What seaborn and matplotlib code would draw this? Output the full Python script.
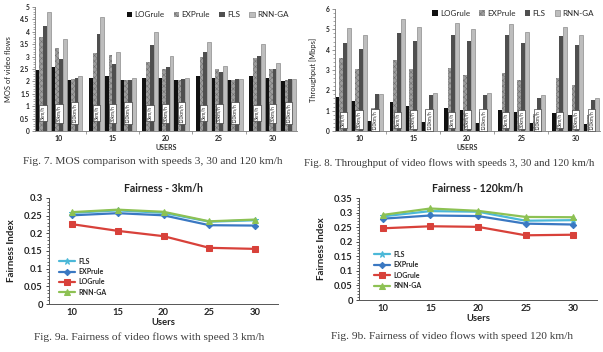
import numpy as np
import pandas as pd
import matplotlib
matplotlib.use("Agg")
import matplotlib.pyplot as plt
import seaborn as sns
from matplotlib.ticker import MultipleLocator, FuncFormatter

# ---------------- data ----------------
users = [10, 15, 20, 25, 30]
speeds = ["3km/h", "30km/h", "120km/h"]
bar_schemes = ["LOGrule", "EXPrule", "FLS", "RNN-GA"]

# values ordered users x speeds (10:3,30,120, 15:3,30,120, ...)
mos_log = [2.45, 2.58, 2.05, 2.13, 2.22, 2.05, 2.15, 2.15, 2.05, 2.20, 2.15, 2.05, 2.20, 2.15, 2.03]
mos_exp = [3.80, 3.35, 2.08, 3.15, 3.05, 2.05, 2.80, 2.50, 2.07, 3.00, 2.50, 2.07, 2.95, 2.50, 2.07]
mos_fls = [4.25, 2.90, 2.15, 3.93, 2.70, 2.07, 3.48, 2.60, 2.10, 3.18, 2.38, 2.08, 3.02, 2.50, 2.08]
mos_rnn = [4.80, 3.72, 2.20, 4.60, 3.20, 2.13, 4.00, 3.03, 2.15, 3.58, 2.63, 2.10, 3.52, 2.75, 2.08]

thr_log = [1.68, 1.47, 0.47, 1.43, 1.25, 0.43, 1.15, 1.05, 0.38, 1.02, 0.93, 0.37, 0.90, 0.77, 0.32]
thr_exp = [3.58, 3.05, 1.15, 3.50, 3.05, 1.03, 3.10, 2.77, 0.95, 2.87, 2.50, 0.83, 2.60, 2.25, 0.78]
thr_fls = [4.35, 4.03, 1.80, 4.80, 4.43, 1.75, 4.72, 4.45, 1.77, 4.72, 4.35, 1.60, 4.67, 4.25, 1.53]
thr_rnn = [5.07, 4.72, 1.83, 5.52, 5.10, 1.85, 5.32, 5.02, 1.85, 5.27, 4.85, 1.75, 5.10, 4.70, 1.63]

line_schemes = ["FLS", "EXPrule", "LOGrule", "RNN-GA"]
fair3_fls = [0.258, 0.265, 0.258, 0.233, 0.237]
fair3_exp = [0.251, 0.257, 0.251, 0.223, 0.222]
fair3_log = [0.226, 0.207, 0.192, 0.159, 0.156]
fair3_rnn = [0.260, 0.267, 0.261, 0.234, 0.239]

fair120_fls = [0.287, 0.305, 0.303, 0.272, 0.274]
fair120_exp = [0.279, 0.290, 0.288, 0.262, 0.259]
fair120_log = [0.246, 0.253, 0.251, 0.222, 0.224]
fair120_rnn = [0.292, 0.314, 0.306, 0.285, 0.284]

# ---------------- style ----------------
sns.set_theme(style="ticks")
plt.rcParams["font.family"] = ["Lato", "DejaVu Sans"]
plt.rcParams["hatch.linewidth"] = 0.35

W, H = 603, 352
fig = plt.figure(figsize=(W / 100, H / 100), dpi=100)


def px_axes(l, t, r, b):
    return fig.add_axes([l / W, 1 - b / H, (r - l) / W, (b - t) / H])


GROUP_STEP = 3.4
bar_colors = {"LOGrule": "#111111", "EXPrule": "#9d9d9d", "FLS": "#4f4f4f", "RNN-GA": "#bdbdbd"}


def bar_frame(vals):
    rows = []
    for k, sch in enumerate(bar_schemes):
        for i, u in enumerate(users):
            for j, sp in enumerate(speeds):
                rows.append({"pos": i * GROUP_STEP + j, "scheme": sch,
                             "value": vals[k][i * 3 + j], "speed": sp})
    return pd.DataFrame(rows)


def bar_chart(ax, df, ymax, major, minor, ylabel, label_y, leg_anchor):
    sns.barplot(data=df, x="pos", y="value", hue="scheme", hue_order=bar_schemes,
                native_scale=True, width=0.97, palette=bar_colors, errorbar=None,
                legend=False, ax=ax, linewidth=0)
    for k, cont in enumerate(ax.containers):
        for p in cont.patches:
            if bar_schemes[k] == "EXPrule":
                p.set_hatch("xxxxxx")
                p.set_edgecolor("#6e6e6e")
                p.set_linewidth(0)
            elif bar_schemes[k] == "RNN-GA":
                p.set_edgecolor("#8c8c8c")
                p.set_linewidth(0.5)
    # speed labels
    sub = df.drop_duplicates("pos")
    for _, r in sub.iterrows():
        ax.text(r["pos"], label_y, r["speed"], rotation=90, ha="center", va="center",
                fontsize=3.4, color="#222222",
                bbox=dict(boxstyle="square,pad=0.25", fc="white", ec="#222222", lw=0.4))
    ax.set_ylim(0, ymax)
    ax.set_xlim(-0.52, (len(users) - 1) * GROUP_STEP + 2.55)
    centers = [i * GROUP_STEP + 1 for i in range(len(users))]
    ax.set_xticks(centers)
    ax.set_xticklabels([str(u) for u in users], fontsize=5, fontweight="bold")
    bounds = [i * GROUP_STEP + 2.5 + (GROUP_STEP - 3) / 2 for i in range(len(users) - 1)]
    ax.set_xticks(bounds, minor=True)
    ax.tick_params(axis="x", which="major", length=0, pad=3)
    ax.tick_params(axis="x", which="minor", length=2, width=0.5, color="#777777")
    ax.yaxis.set_major_locator(MultipleLocator(major))
    ax.yaxis.set_minor_locator(MultipleLocator(minor))
    ax.yaxis.set_major_formatter(FuncFormatter(lambda v, p: "%g" % v))
    ax.tick_params(axis="y", which="major", labelsize=4.8, length=2, width=0.5, pad=2, color="#666666")
    ax.tick_params(axis="y", which="minor", length=1.2, width=0.4, color="#666666")
    for lab in ax.get_yticklabels():
        lab.set_fontweight("bold")
    ax.set_xlabel("USERS", fontsize=5, fontweight="bold", labelpad=1.5, color="#333333")
    ax.set_ylabel(ylabel, fontsize=5.4, labelpad=6, color="#222222")
    sns.despine(ax=ax)
    for s in ["left", "bottom"]:
        ax.spines[s].set_linewidth(0.6)
        ax.spines[s].set_color("#777777")
    handles = [c.patches[0] for c in ax.containers]
    ax.legend(handles, bar_schemes, loc="upper right", bbox_to_anchor=leg_anchor, ncol=4,
              frameon=False, fontsize=5.8, handlelength=0.7, handleheight=0.7,
              handletextpad=0.3, columnspacing=1.1, borderaxespad=0)


ax1 = px_axes(35, 7, 297, 131)
bar_chart(ax1, bar_frame([mos_log, mos_exp, mos_fls, mos_rnn]), 5, 0.5, 0.1,
          "MOS of video flows", 0.72, (0.98, 0.99))
ax2 = px_axes(335, 9, 600, 131)
bar_chart(ax2, bar_frame([thr_log, thr_exp, thr_fls, thr_rnn]), 6, 1, 0.2,
          "Throughput [Mbps]", 0.55, (0.99, 1.02))

line_colors = {"FLS": "#4bb8d8", "EXPrule": "#3a78c2", "LOGrule": "#d8413a", "RNN-GA": "#8dc153"}
line_markers = {"FLS": "*", "EXPrule": "D", "LOGrule": "s", "RNN-GA": "^"}
marker_sizes = {"FLS": 4.5, "EXPrule": 3.2, "LOGrule": 4.8, "RNN-GA": 4.2}


def line_frame(vals):
    rows = []
    for k, sch in enumerate(line_schemes):
        for i, u in enumerate(users):
            rows.append({"users": u, "scheme": sch, "value": vals[k][i]})
    return pd.DataFrame(rows)


def line_chart(ax, df, ymax, title, leg_anchor):
    sns.lineplot(data=df, x="users", y="value", hue="scheme", style="scheme",
                 hue_order=line_schemes, style_order=line_schemes,
                 palette=line_colors, markers=line_markers, dashes=False,
                 errorbar=None, legend=False, ax=ax, linewidth=1.6)
    for ln, sch in zip(ax.lines, line_schemes):
        ln.set_markeredgecolor(line_colors[sch])
        ln.set_markersize(marker_sizes[sch])
    ax.set_xlim(7.5, 32.5)
    ax.set_ylim(0, ymax)
    ax.set_xticks(users)
    ax.set_xticklabels([str(u) for u in users], fontsize=6.8, fontweight="bold")
    ax.tick_params(axis="x", length=0, pad=3)
    ax.yaxis.set_major_locator(MultipleLocator(0.05))
    ax.yaxis.set_minor_locator(MultipleLocator(0.01))
    ax.yaxis.set_major_formatter(FuncFormatter(lambda v, p: "%g" % round(v, 2)))
    ax.tick_params(axis="y", which="major", labelsize=6.8, length=2.5, width=0.6, pad=2)
    ax.tick_params(axis="y", which="minor", length=1.5, width=0.5)
    for lab in ax.get_yticklabels():
        lab.set_fontweight("bold")
    ax.set_xlabel("Users", fontsize=6.8, fontweight="bold", labelpad=0.5, color="#222222")
    ax.set_ylabel("Fairness Index", fontsize=7, fontweight="bold", labelpad=6, color="#222222")
    ax.set_title(title, fontsize=7.6, fontweight="bold", pad=4, color="#222222")
    sns.despine(ax=ax)
    for s in ["left", "bottom"]:
        ax.spines[s].set_linewidth(0.7)
        ax.spines[s].set_color("#555555")
    ax.legend(ax.lines[:4], line_schemes, loc="lower left", bbox_to_anchor=leg_anchor,
              frameon=False, prop={"size": 5, "weight": "bold"}, handlelength=2.4,
              handletextpad=0.5, labelspacing=0.5, borderaxespad=0)


ax3 = px_axes(49, 198, 278, 304)
line_chart(ax3, line_frame([fair3_fls, fair3_exp, fair3_log, fair3_rnn]), 0.3,
           "Fairness - 3km/h", (0.03, 0.05))
ax4 = px_axes(359, 198, 597, 300)
line_chart(ax4, line_frame([fair120_fls, fair120_exp, fair120_log, fair120_rnn]), 0.35,
           "Fairness - 120km/h", (0.05, 0.08))

cap = dict(family=["Liberation Serif", "DejaVu Serif"], fontsize=8.2, color="#3a3a3a", va="center")
fig.text(153 / W, 1 - 162 / H, "Fig. 7. MOS comparison with speeds 3, 30 and 120 km/h", ha="center", **cap)
cap8 = dict(cap, fontsize=7.85)
fig.text(304 / W, 1 - 163 / H, "Fig. 8. Throughput of video flows with speeds 3, 30 and 120 km/h", ha="left", **cap8)
fig.text(149 / W, 1 - 337 / H, "Fig. 9a. Fairness of video flows with speed 3 km/h", ha="center", **cap)
fig.text(452 / W, 1 - 336 / H, "Fig. 9b. Fairness of video flows with speed 120 km/h", ha="center", **cap)

fig.savefig("out.png", dpi=100, facecolor="white")
